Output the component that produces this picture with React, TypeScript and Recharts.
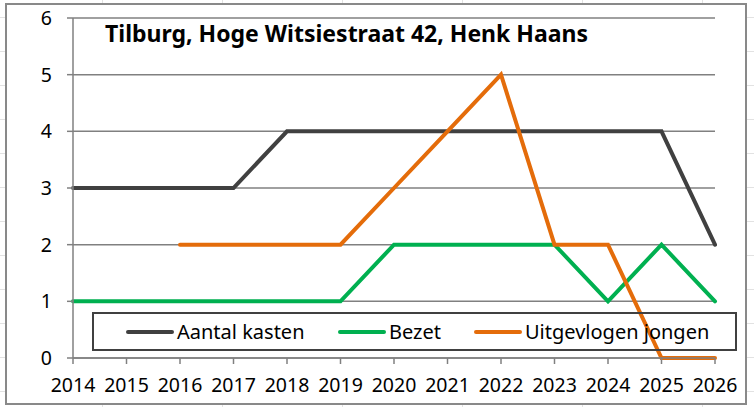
import React from "react";
import { LineChart, Line, XAxis, YAxis, CartesianGrid, Legend } from "recharts";

const years = [2014, 2015, 2016, 2017, 2018, 2019, 2020, 2021, 2022, 2023, 2024, 2025, 2026];
const aantalKasten = [3, 3, 3, 3, 4, 4, 4, 4, 4, 4, 4, 4, 2];
const bezet = [1, 1, 1, 1, 1, 1, 2, 2, 2, 2, 1, 2, 1];
const uitgevlogen: (number | null)[] = [null, null, 2, 2, 2, 2, 3, 4, 5, 2, 2, 0, 0];
const yTicks = [0, 1, 2, 3, 4, 5, 6];
const title = "Tilburg, Hoge Witsiestraat 42, Henk Haans";

const series = [
  { key: "kasten", name: "Aantal kasten", color: "#404040", values: aantalKasten },
  { key: "bezet", name: "Bezet", color: "#00B050", values: bezet },
  { key: "jongen", name: "Uitgevlogen jongen", color: "#E46C0A", values: uitgevlogen },
];

const data = years.map((y, i) => {
  const row: Record<string, number | null> = { year: y };
  series.forEach((s) => (row[s.key] = s.values[i]));
  return row;
});

const FONT = "'Noto Sans', 'Open Sans', sans-serif";

const legendLeft = [126, 338, 474];

const LegendContent = (props: any) => {
  const payload = props.payload || [];
  return (
    <div
      style={{
        position: "relative",
        width: 641,
        height: 35,
        border: "2px solid #404040",
        boxSizing: "content-box",
        fontFamily: FONT,
        fontSize: 20,
        color: "#000",
      }}
    >
      {payload.map((p: any, i: number) => (
        <div
          key={i}
          style={{
            position: "absolute",
            left: legendLeft[i] - 94,
            top: 0,
            height: 35,
            display: "flex",
            alignItems: "center",
            whiteSpace: "nowrap",
          }}
        >
          <svg width={48} height={8} style={{ marginRight: 3 }}>
            <line x1={2} y1={4} x2={46} y2={4} stroke={p.color} strokeWidth={4} strokeLinecap="round" />
          </svg>
          <span>{p.value}</span>
        </div>
      ))}
    </div>
  );
};

export default function App() {
  return (
    <div
      style={{
        position: "absolute",
        left: 0,
        top: 0,
        width: 754,
        height: 407,
        backgroundColor: "#fff",
        backgroundImage:
          "repeating-linear-gradient(to right, transparent 0px, transparent 102px, #e2e2e2 102px, #e2e2e2 103px, transparent 103px, transparent 120px), repeating-linear-gradient(to bottom, transparent 0px, transparent 17px, #e2e2e2 17px, #e2e2e2 18px, transparent 18px, transparent 34px)",
        overflow: "hidden",
      }}
    >
      <div
        style={{
          position: "absolute",
          left: 5,
          top: 3,
          width: 738,
          height: 398,
          border: "2px solid #898989",
          background: "#fff",
        }}
      />
      <div style={{ position: "absolute", left: 0, top: 0 }}>
        <LineChart
          width={754}
          height={407}
          data={data}
          margin={{ top: 18, right: 39, bottom: 19, left: 33 }}
          style={{ fontFamily: FONT }}
        >
          <CartesianGrid vertical={false} stroke="#808080" strokeWidth={1.5} />
          <XAxis
            dataKey="year"
            type="number"
            domain={[2014, 2026]}
            ticks={years}
            interval={0}
            height={30}
            stroke="#808080"
            strokeWidth={1.5}
            tickSize={6}
            tickMargin={14}
            tick={{ fill: "#000", fontSize: 19.5, fontFamily: FONT }}
          />
          <YAxis
            type="number"
            domain={[0, 6]}
            ticks={yTicks}
            interval={0}
            width={40}
            stroke="#808080"
            strokeWidth={1.5}
            tickSize={6}
            tickMargin={15}
            tick={{ fill: "#000", fontSize: 19.5, fontFamily: FONT }}
          />
          {series.map((s) => (
            <Line
              key={s.key}
              dataKey={s.key}
              name={s.name}
              stroke={s.color}
              strokeWidth={4}
              strokeLinecap="round"
              dot={false}
              activeDot={false}
              connectNulls={false}
              isAnimationActive={false}
              legendType="line"
            />
          ))}
          <Legend
            layout="horizontal"
            verticalAlign="middle"
            align="center"
            content={<LegendContent />}
            wrapperStyle={{ left: 92, top: 312, width: 645, height: 39 }}
          />
        </LineChart>
      </div>
      <div
        style={{
          position: "absolute",
          left: 105,
          top: 22,
          fontFamily: FONT,
          fontWeight: "bold",
          fontSize: 23,
          lineHeight: "23px",
          color: "#000",
          whiteSpace: "nowrap",
        }}
      >
        {title}
      </div>
    </div>
  );
}
